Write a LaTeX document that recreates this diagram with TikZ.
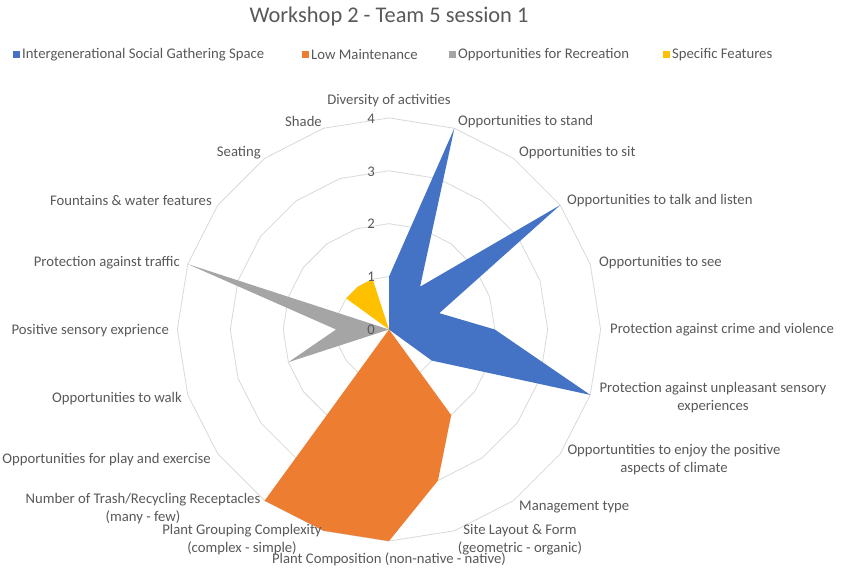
\documentclass[tikz,border=0pt]{standalone}
\usepackage{fontspec}
\setmainfont{Carlito}
\definecolor{sblue}{HTML}{4472C4}
\definecolor{sorange}{HTML}{ED7D31}
\definecolor{sgray}{HTML}{A5A5A5}
\definecolor{syellow}{HTML}{FFC000}
\definecolor{gridc}{HTML}{D9D9D9}
\definecolor{txt}{HTML}{595959}
\tikzset{
  gridline/.style={draw=gridc, line width=0.8pt},
  lbl/.style={text=txt, font=\fontsize{14.7}{18}\selectfont, inner sep=0pt, yshift=-1.5pt},
  lbl2/.style={lbl, align=center},
  scalelbl/.style={text=txt, font=\fontsize{14.7}{16}\selectfont, inner sep=0pt, yshift=-1pt},
  legsq/.style={minimum size=7pt, inner sep=0pt, yshift=-1.5pt},
  ttl/.style={text=txt, font=\fontsize{22.4}{26}\selectfont, inner sep=0pt, yshift=-1pt}
}
\begin{document}
\begin{tikzpicture}[x=1pt,y=1pt]
\useasboundingbox (0,0) rectangle (841,571);
\fill[white] (0,0) rectangle (841,571);
% title
\node[ttl] (title) at (389,555) {Workshop 2 - Team 5 session 1};
% legend
\node[legsq, fill=sblue] (l1) at (16,518) {};
\node[lbl, anchor=west] (l1t) at (22,518) {Intergenerational Social Gathering Space};
\node[legsq, fill=sorange] (l2) at (305,518) {};
\node[lbl, anchor=west] (l2t) at (311,518) {Low Maintenance};
\node[legsq, fill=sgray] (l3) at (452,518) {};
\node[lbl, anchor=west] (l3t) at (458,518) {Opportunities for Recreation};
\node[legsq, fill=syellow] (l4) at (666,518) {};
\node[lbl, anchor=west] (l4t) at (672,518) {Specific Features};
\begin{scope}[shift={(389,241.5)}]
\coordinate (O) at (0,0);
\def\u{52.9}
% grid
\foreach \k in {1,2,3,4}{
  \draw[gridline] (90:{\k*\u}) \foreach \i in {1,...,19}{ -- ({90-18*\i}:{\k*\u})} -- cycle;
}
% series
\fill[sblue] (O) -- (90:{1*\u}) -- (72:{4*\u}) -- (54:{1*\u}) -- (36:{4*\u}) -- (18:{1*\u}) -- (0:{2*\u}) -- (-18:{4*\u}) -- (-36:{1*\u}) -- cycle;
\fill[sorange] (O) -- (-54:{2*\u}) -- (-72:{3*\u}) -- (-90:{4*\u}) -- (-108:{4*\u}) -- (-126:{4*\u}) -- cycle;
\fill[sgray] (O) -- (-162:{2*\u}) -- (180:{1*\u}) -- (162:{4*\u}) -- cycle;
\fill[syellow] (O) -- (144:{1*\u}) -- (126:{1*\u}) -- (108:{1*\u}) -- cycle;
% scale labels
\foreach \k in {0,1,2,3,4}{
  \node[scalelbl] (s\k) at (-18,{\k*\u+0.5}) {\k};
}
\end{scope}
% axis labels
\node[lbl] (a1) at (389,472) {Diversity of activities};
\node[lbl, anchor=west] (a2) at (458,451) {Opportunities to stand};
\node[lbl, anchor=west] (a3) at (519,420) {Opportunities to sit};
\node[lbl, anchor=west] (a4) at (567,372) {Opportunities to talk and listen};
\node[lbl, anchor=west] (a5) at (599,310) {Opportunities to see};
\node[lbl, anchor=west] (a6) at (610,243) {Protection against crime and violence};
\node[lbl2] (a7) at (713,175) {Protection against unpleasant sensory\\experiences};
\node[lbl2] (a8) at (674,113) {Opportuntities to enjoy the positive\\aspects of climate};
\node[lbl, anchor=west] (a9) at (519,65) {Management type};
\node[lbl2] (a10) at (520,33) {Site Layout \& Form\\(geometric - organic)};
\node[lbl] (a11) at (389,13) {Plant Composition (non-native - native)};
\node[lbl2] (a12) at (242,33) {Plant Grouping Complexity\\(complex - simple)};
\node[lbl2] (a13) at (143,64) {Number of Trash/Recycling Receptacles\\(many - few)};
\node[lbl, anchor=east] (a14) at (211,113) {Opportunities for play and exercise};
\node[lbl, anchor=east] (a15) at (182,174) {Opportunities to walk};
\node[lbl, anchor=east] (a16) at (169,242) {Positive sensory exprience};
\node[lbl, anchor=east] (a17) at (180,310) {Protection against traffic};
\node[lbl, anchor=east] (a18) at (212,372) {Fountains \& water features};
\node[lbl, anchor=east] (a19) at (261,420) {Seating};
\node[lbl, anchor=east] (a20) at (322,451) {Shade};
\end{tikzpicture}
\end{document}
